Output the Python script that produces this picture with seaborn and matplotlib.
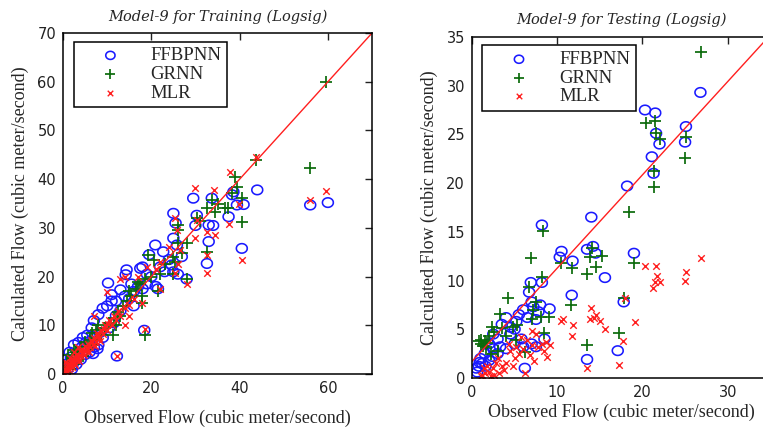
import numpy as np
import pandas as pd
import seaborn as sns
import matplotlib.pyplot as plt
from matplotlib.markers import MarkerStyle

# ---- Training (left panel): observed, calculated ----
train_ffbp = [
    (60, 35.2), (56, 34.7), (44, 37.8), (40.5, 25.8), (40.9, 34.8), (39.4, 34.7), (38.3, 36.8),
    (37.5, 32.3), (33, 30.6), (33, 27.2), (32.6, 22.7), (29.5, 36.1), (33.7, 36.1), (38.6, 37.4),
    (30.3, 32.6), (30, 30.5), (25, 33), (25.5, 31), (25, 27.9), (25.8, 26.5), (26.9, 24.1),
    (24.6, 22.4), (25, 21), (26, 20.5), (28, 19.5), (20.9, 26.5), (22.7, 25.1), (19.5, 24.5),
    (18, 22), (17.5, 21.7), (14.4, 21.4), (14.2, 20.4), (19, 20.5), (21, 18), (21.5, 17.5),
    (10.2, 18.7), (13, 17.3), (11, 16.3), (12, 15), (18.4, 9), (12.2, 3.7), (9, 13.5), (8, 12.2),
    (7, 11), (6.5, 9.5), (11, 15), (10, 14), (14, 16), (15, 15.5), (16, 17), (17, 18), (18, 17.5),
    (19, 18.5), (20, 20), (22, 22), (23, 21), (24, 23.5), (12, 12), (13, 13), (10.5, 9.5),
    (11.5, 10.5), (5.5, 8), (4.5, 7.5), (3.5, 6.5), (2.5, 6), (1.5, 4.5), (0.8, 3), (0.5, 2),
    (0.3, 0.5), (1, 1), (2, 1), (3, 2), (4, 3), (5, 4), (6, 4.5), (7, 5.5), (8, 6), (9, 7.5),
    (15.5, 18.5), (16, 14), (34, 30.5), (0.4, 1.2), (1.2, 2.2), (1.8, 3.5), (2.2, 2),
    (3.2, 3.5), (4.2, 5.5), (5.2, 6.5), (6.2, 6.8), (7.2, 7.8), (8.3, 8.5), (6.8, 4.2), (7.8, 5.2),
]
train_grnn = [
    (59.6, 59.9), (56, 42.2), (43.8, 43.9), (39, 40.5), (39.4, 38.5), (38.3, 37.1), (40.5, 36.1),
    (40.5, 31.3), (37.3, 34), (36.7, 34), (33.7, 35.8), (34.5, 33.3), (32.6, 34), (30.3, 32),
    (32.6, 25.1), (31, 31.5), (28, 19.5), (26.1, 30.6), (26.1, 29.5), (25.4, 23), (26.9, 24.8),
    (26, 27), (25, 24), (25, 20.5), (22, 20.5), (21.5, 17), (20.5, 23.4), (19.3, 24.4), (18, 16),
    (18, 14.5), (18.6, 8), (17, 19), (15, 17), (11.4, 8), (12, 10), (13, 12), (20, 20),
    (23, 22.5), (28, 27), (35, 35), (0.3, 1.5), (0.8, 2.5), (1.2, 4), (2, 3.2), (2.5, 5), (3, 4.5),
    (3.5, 4), (4, 5.5), (5, 6.5), (6, 7), (6.5, 8.5), (7.5, 9), (8, 10), (8.5, 8), (9.5, 9.5),
    (10.5, 10.5), (11.5, 11.5), (12.5, 12.8), (13.5, 14), (14.5, 15), (15.5, 16), (16.5, 17.5),
    (17.5, 18.5), (18.5, 19.5), (1.5, 1), (2.5, 2), (4.5, 3.8), (5.5, 5), (6.5, 6), (7.5, 7.2),
]
train_mlr = [
    (59.6, 37.5), (56, 35.8), (43.8, 44.6), (40.5, 23.4), (39.8, 35), (37.9, 41.5), (37.5, 30.9),
    (34.1, 37.8), (29.9, 38.1), (34.5, 28.5), (32.6, 29.2), (32.6, 24.4), (32.6, 20.7),
    (29.9, 27.9), (30.3, 31.6), (25.4, 32), (25.8, 29.6), (26.5, 25.5), (25.4, 20.7), (24, 26),
    (26, 22.5), (28, 18.5), (18.6, 9.3), (12.2, 3.7), (9.9, 16.9), (13, 19.5), (14, 20), (15, 12),
    (17, 20), (18, 14.5), (19, 22), (21, 21.5), (22, 23), (22, 17.5), (7, 12), (14, 10),
    (0.3, 0.2), (0.6, 0.8), (0.8, 1.5), (1, 0.5), (1.2, 2), (1.5, 1.2), (1.8, 2.5), (2, 1.5),
    (2.2, 3), (2.5, 2.2), (2.8, 3.5), (3, 2.8), (3.2, 4.2), (3.5, 3.2), (3.8, 4.8), (4, 3.8),
    (4.3, 5.2), (4.6, 4.4), (5, 5.8), (5.3, 4.8), (5.6, 6.2), (6, 5.5), (6.3, 7), (6.7, 6),
    (7, 7.5), (7.4, 6.6), (7.8, 8.4), (8.2, 7.4), (8.6, 9), (9, 8.2), (9.5, 10), (10, 9),
    (10.5, 11), (11, 10), (11.5, 12), (12, 11), (12.5, 13), (13, 12), (14, 13.5), (15, 14.2),
    (16, 15.5), (1.5, 3.2), (2.5, 4.5), (3.5, 5.5), (0.5, 2.5), (0.4, 1), (0.9, 2.2), (1.3, 0.9),
    (1.7, 1.8), (2.3, 2.6), (2.7, 1.8), (3.3, 3.6), (3.7, 2.7), (4.2, 4.6), (4.8, 3.9), (5.4, 5.4),
    (5.8, 4.6), (6.5, 6.6), (7.2, 5.8), (8, 7.9), (8.4, 6.8), (9.2, 9.2), (10.2, 10.2),
]
train_line_x = [0, 70]
train_line_y = [0, 70]

# ---- Testing (right panel) ----
test_ffbp = [
    (26.8, 29.3), (25.1, 25.8), (25, 24.2), (21.5, 27.2), (20.3, 27.5), (21.6, 25.1), (22, 24),
    (21.1, 22.7), (21.3, 21), (18.2, 19.7), (14, 16.5), (8.2, 15.7), (10.5, 13), (10.3, 12.4),
    (11.8, 12), (13.5, 13.2), (14.2, 13.5), (14.5, 12.8), (15.6, 10.3), (19, 12.8), (11.7, 8.5),
    (17.8, 7.8), (17.1, 2.8), (13.5, 1.9), (6.2, 1), (6.9, 9.8), (6.7, 8.8), (8.2, 9.8),
    (7.2, 7.3), (8, 7.5), (9.1, 7.1), (7.5, 6), (6.5, 6.2), (5.5, 6.5), (4, 6.2), (3.5, 5.5),
    (5, 5), (4.5, 4.5), (5.8, 4), (7, 3.5), (8.5, 4), (3, 4), (2.5, 3), (2, 3.5), (1.5, 2.5),
    (1, 2), (0.8, 1.2), (0.5, 1), (1.2, 1.5), (2, 1.8), (3, 2.5), (4, 3), (5, 3.5), (6, 3.2),
    (7.5, 3.2), (4.5, 5.2), (5.2, 5.8), (6, 7), (7, 7.8), (7.8, 6.8), (2.5, 4.5), (3.3, 3.2),
    (0.6, 0.6), (0.9, 1.6), (1.6, 1.2), (2.4, 2.2),
]
test_grnn = [
    (26.9, 33.5), (25, 22.6), (25.1, 24.7), (21.5, 26.4), (20.4, 26.2), (21.6, 25.1), (22, 24.5),
    (21.3, 21.2), (21.3, 19.6), (18.4, 17), (8.3, 15.1), (6.9, 12.3), (10.5, 11.8), (11.7, 11.3),
    (13.8, 12.4), (14.1, 13.3), (14.5, 11.4), (15.3, 12.5), (13.5, 10.7), (19, 11.8), (11.6, 7.5),
    (17.8, 8.2), (17.3, 4.6), (13.5, 3.4), (8.2, 10.4), (4.2, 8.2), (3.3, 6.6), (2.3, 5.2),
    (2, 4.3), (1.5, 3.8), (1, 3.5), (0.8, 3.8), (1.3, 3.3), (1.8, 3.6), (2.6, 4.7), (3.5, 5.1),
    (4.8, 5.2), (5.3, 5.4), (5.2, 3.9), (6.2, 2.7), (7.2, 7), (7, 6), (7.5, 7.8), (8.5, 4.6),
    (8.1, 6.3), (9, 6.3), (6.7, 9.3), (2.2, 2.5), (3, 2.8), (4, 4.3), (1.1, 3.9), (1.6, 3.2),
]
test_mlr = [
    (26.9, 12.3), (25.1, 10.9), (25, 9.9), (21.6, 11.5), (21.7, 10.5), (21.5, 9.8), (21.2, 9.2),
    (20.3, 11.5), (22, 9.8), (19.1, 5.7), (17.9, 8.2), (17.7, 3.8), (17.2, 1.3), (13.5, 1),
    (14, 7.2), (14.3, 6.2), (14.6, 6.5), (13.8, 6), (15, 5.8), (15.6, 5), (10.7, 6), (10.5, 5.8),
    (11.8, 5.4), (11.7, 4.3), (8.2, 3.5), (7.5, 4.5), (7, 4.8), (7.8, 3.2), (7.3, 1.7), (8.8, 2.1),
    (8.5, 2.8), (6.2, 0.5), (6.5, 3.9), (5.5, 2.5), (5, 2), (4.5, 2.8), (4, 1.5), (3.5, 1.2),
    (3, 2), (2.5, 1), (2, 0.6), (1.8, 1.2), (1.5, 0.5), (1.2, 0.3), (1, 0.2), (2.2, 0.2),
    (3.8, 0.8), (6, 3), (7, 3.4), (5.8, 4.2), (4.3, 3.5), (8.7, 3.7), (9.2, 3.4),
    (1.4, 1), (2.8, 1.5), (3.2, 0.5), (4.8, 1.2), (5.2, 3.2), (6.8, 2.4), (2.6, 0.3),
]
test_line_x = [0, 35]
test_line_y = [1.7, 35.2]

series_names = ["FFBPNN", "GRNN", "MLR"]

sns.set_theme(style="white")
plt.rcParams["font.family"] = ["DejaVu Sans"]

# slightly wide ellipse for the FFBPNN marker
t = np.linspace(0, 2 * np.pi, 40)
ellipse = MarkerStyle(np.column_stack([1.15 * np.cos(t), np.sin(t)]))

blue = "#1a1aff"
green = "#0b6b0b"
red = "#ff1f1f"
serif = "Liberation Serif"

fig = plt.figure(figsize=(7.63, 4.29), dpi=100)
ax1 = fig.add_axes([0.0826, 0.128, 0.405, 0.795])
ax2 = fig.add_axes([0.6186, 0.119, 0.391, 0.795])


def draw(ax, ffbp, grnn, mlr, lx, ly, lim, ticks, title, xpad):
    f = pd.DataFrame(ffbp, columns=["obs", "calc"])
    g = pd.DataFrame(grnn, columns=["obs", "calc"])
    m = pd.DataFrame(mlr, columns=["obs", "calc"])
    sns.scatterplot(data=f, x="obs", y="calc", marker=ellipse, s=62, facecolor="none",
                    edgecolor=blue, linewidth=1.15, ax=ax, label=series_names[0])
    sns.scatterplot(data=g, x="obs", y="calc", marker="+", s=72, color=green,
                    linewidth=1.25, ax=ax, label=series_names[1])
    sns.scatterplot(data=m, x="obs", y="calc", marker="x", s=22, color=red,
                    linewidth=1.0, ax=ax, label=series_names[2])
    sns.lineplot(x=lx, y=ly, color=red, linewidth=1.0, sort=False, ax=ax)
    ax.set_xlim(0, lim)
    ax.set_ylim(0, lim)
    ax.set_xticks(ticks)
    ax.set_yticks(np.arange(0, lim + 1, 10 if lim > 40 else 5))
    ax.tick_params(direction="in", length=5, width=1, top=True, right=True,
                   labelsize=10.5, pad=5, colors="#222222")
    for sp in ax.spines.values():
        sp.set_color("black")
        sp.set_linewidth(1.1)
    ax.set_title(title, family="DejaVu Serif", style="italic", fontsize=10.5, pad=9)
    ax.set_xlabel("Observed Flow (cubic meter/second)", family=serif, fontsize=13, labelpad=xpad)
    ax.set_ylabel("Calculated Flow (cubic meter/second)", family=serif, fontsize=13, labelpad=6)
    leg = ax.legend(loc="upper left", bbox_to_anchor=(0.035, 0.975), borderaxespad=0,
                    prop={"family": serif, "size": 13.5}, frameon=True, fancybox=False,
                    edgecolor="black", framealpha=1, handlelength=3.3, handletextpad=0.5,
                    labelspacing=0.08, borderpad=0.3, markerscale=0.85)
    leg.get_frame().set_linewidth(1.1)


draw(ax1, train_ffbp, train_grnn, train_mlr, train_line_x, train_line_y, 70,
     [0, 20, 40, 60], "Model-9 for Training (Logsig)", 10)
draw(ax2, test_ffbp, test_grnn, test_mlr, test_line_x, test_line_y, 35,
     [0, 10, 20, 30], "Model-9 for Testing (Logsig)", 3)

fig.savefig("out.png", dpi=100)
